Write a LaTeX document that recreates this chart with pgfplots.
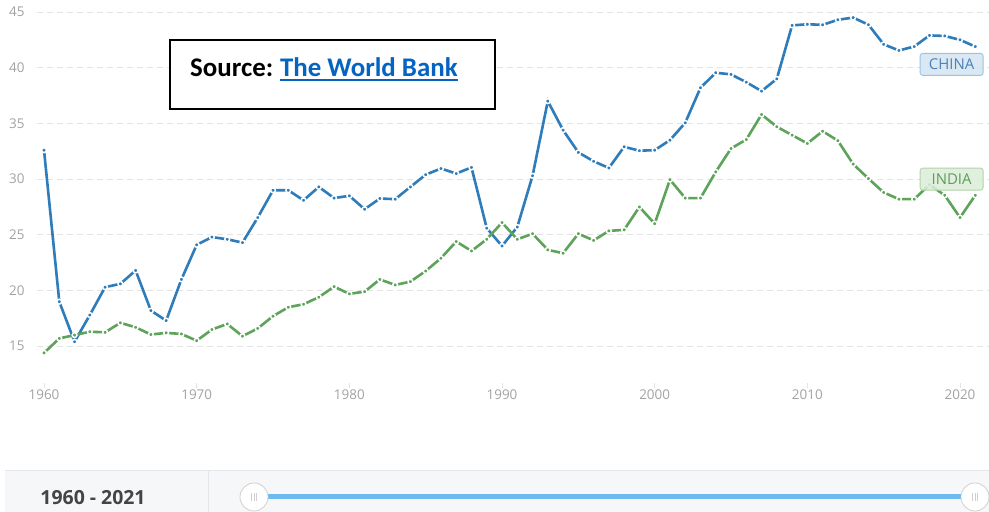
\documentclass[border=0pt]{standalone}
\usepackage{fontspec}
\setmainfont{Carlito}
\newfontfamily\osans{Open Sans}
\usepackage{pgfplots}
\usepackage{pgfplotstable}
\pgfplotsset{compat=1.18}
\definecolor{cblue}{HTML}{2E7CBA}
\definecolor{igreen}{HTML}{5EA35A}
\definecolor{gridgray}{HTML}{E3E3E3}
\definecolor{tickgray}{HTML}{A3A3A3}
\definecolor{chinafill}{HTML}{D3E4F2}
\definecolor{chinaborder}{HTML}{9CC2E3}
\definecolor{chinatext}{HTML}{4A82B8}
\definecolor{indiafill}{HTML}{DCEDD9}
\definecolor{indiaborder}{HTML}{AFD5A8}
\definecolor{indiatext}{HTML}{5E9E58}
\definecolor{linkblue}{HTML}{0563C1}
\definecolor{panelgray}{HTML}{F6F7F9}
\definecolor{linegray}{HTML}{E4E6EA}
\definecolor{sliderblue}{HTML}{6CBAF0}
\definecolor{handlegray}{HTML}{D0D0D0}
\definecolor{darktext}{HTML}{444444}

\pgfplotstableread{
year china india
1960 32.6 14.4
1961 19.0 15.7
1962 15.4 16.0
1963 17.8 16.3
1964 20.3 16.25
1965 20.6 17.1
1966 21.8 16.7
1967 18.2 16.05
1968 17.3 16.2
1969 21.0 16.1
1970 24.1 15.5
1971 24.8 16.5
1972 24.6 17.0
1973 24.3 15.9
1974 26.55 16.6
1975 29.0 17.7
1976 29.0 18.5
1977 28.1 18.77
1978 29.3 19.4
1979 28.3 20.35
1980 28.5 19.7
1981 27.3 19.9
1982 28.26 21.0
1983 28.2 20.5
1984 29.3 20.8
1985 30.4 21.75
1986 30.95 22.9
1987 30.5 24.4
1988 31.05 23.55
1989 25.6 24.6
1990 24.0 26.1
1991 25.7 24.6
1992 30.3 25.1
1993 37.0 23.65
1994 34.4 23.35
1995 32.4 25.1
1996 31.6 24.5
1997 31.0 25.35
1998 32.9 25.45
1999 32.55 27.5
2000 32.6 26.0
2001 33.5 29.95
2002 35.05 28.3
2003 38.2 28.3
2004 39.55 30.65
2005 39.4 32.75
2006 38.7 33.55
2007 37.9 35.8
2008 39.0 34.7
2009 43.8 33.95
2010 43.9 33.2
2011 43.85 34.3
2012 44.3 33.45
2013 44.5 31.35
2014 43.86 30.05
2015 42.1 28.8
2016 41.55 28.2
2017 41.9 28.2
2018 42.9 29.5
2019 42.85 28.55
2020 42.5 26.55
2021 41.9 28.55
}\data

\begin{document}
\begin{tikzpicture}[x=1bp,y=1bp]
\fill[white] (0,0) rectangle (989,512);
\begin{axis}[
  at={(37bp,129bp)}, anchor=south west,
  scale only axis, width=952bp, height=383bp,
  xmin=1959.54, xmax=2021.9, ymin=11.7, ymax=46.08,
  axis line style={draw=none},
  xtick={1960,1970,...,2020}, ytick={15,20,...,45},
  xticklabel style={/pgf/number format/1000 sep={}},
  /pgf/number format/assume math mode=true,
  tick label style={font=\osans\fontsize{13.5}{15}\selectfont, text=tickgray},
  yticklabel style={xshift=-4bp},
  xticklabel style={yshift=2bp},
  xtick pos=bottom, ytick pos=left,
  tick align=outside, major tick length=5bp,
  xtick style={color=gridgray, line width=1bp},
  ytick style={draw=none},
  ymajorgrids,
  major grid style={dash pattern=on 6bp off 4bp, color=gridgray, line width=1bp},
  clip=false,
]
\addplot[cblue, line width=2.6bp, mark=*, mark size=2.4bp,
  mark options={fill=cblue, draw=white, line width=1.5bp}] table[x=year,y=china]{\data};
\addplot[igreen, line width=2.6bp, mark=*, mark size=2.4bp,
  mark options={fill=igreen, draw=white, line width=1.5bp}] table[x=year,y=india]{\data};
\coordinate (lc) at (axis cs:2019.45,40.3);
\coordinate (li) at (axis cs:2019.45,30.0);
\end{axis}
\node[fill=chinafill, fill opacity=0.85, text opacity=1, draw=chinaborder, line width=0.8bp, rounded corners=2.5bp, text=chinatext,
  font=\osans\fontsize{15}{17}\selectfont, minimum width=63bp, minimum height=22bp, inner sep=0pt]
  at (lc) {CHINA};
\node[fill=indiafill, fill opacity=0.85, text opacity=1, draw=indiaborder, line width=0.8bp, rounded corners=2.5bp, text=indiatext,
  font=\osans\fontsize{15}{17}\selectfont, minimum width=63bp, minimum height=22bp, inner sep=0pt]
  at (li) {INDIA};
% source box
\draw[black, line width=1.6bp, fill=white] (170,472) rectangle (495,403);
\node (s) [anchor=base west, inner sep=0pt, font=\fontsize{27}{31}\selectfont\bfseries] at (190,435.5) {Source:};
\node (w) [anchor=base west, inner sep=0pt, font=\fontsize{27}{31}\selectfont\bfseries, text=linkblue] at ([xshift=6.5bp]s.base east) {The World Bank};
\draw[linkblue, line width=2bp] ([yshift=-4bp]w.base west) -- ([yshift=-4bp]w.base east);
% bottom panel
\fill[panelgray] (5,0) rectangle (989,41);
\draw[linegray, line width=1bp] (5,41) -- (989,41);
\draw[linegray, line width=1bp] (208,0) -- (208,41);
\node[font=\osans\fontsize{19.5}{22}\selectfont\bfseries, text=darktext] at (93,14) {1960 - 2021};
\draw[sliderblue, line width=5bp] (254,15) -- (975,15);
\foreach \cx in {254,975}{
  \filldraw[fill=white, draw=handlegray, line width=0.8bp] (\cx,15) circle (14);
  \foreach \dx in {-2.5,0,2.5}{\draw[handlegray, line width=0.6bp] (\cx+\dx,11) -- (\cx+\dx,19);}
}
\pgfresetboundingbox
\useasboundingbox (0,0) rectangle (989,512);
\end{tikzpicture}
\end{document}
